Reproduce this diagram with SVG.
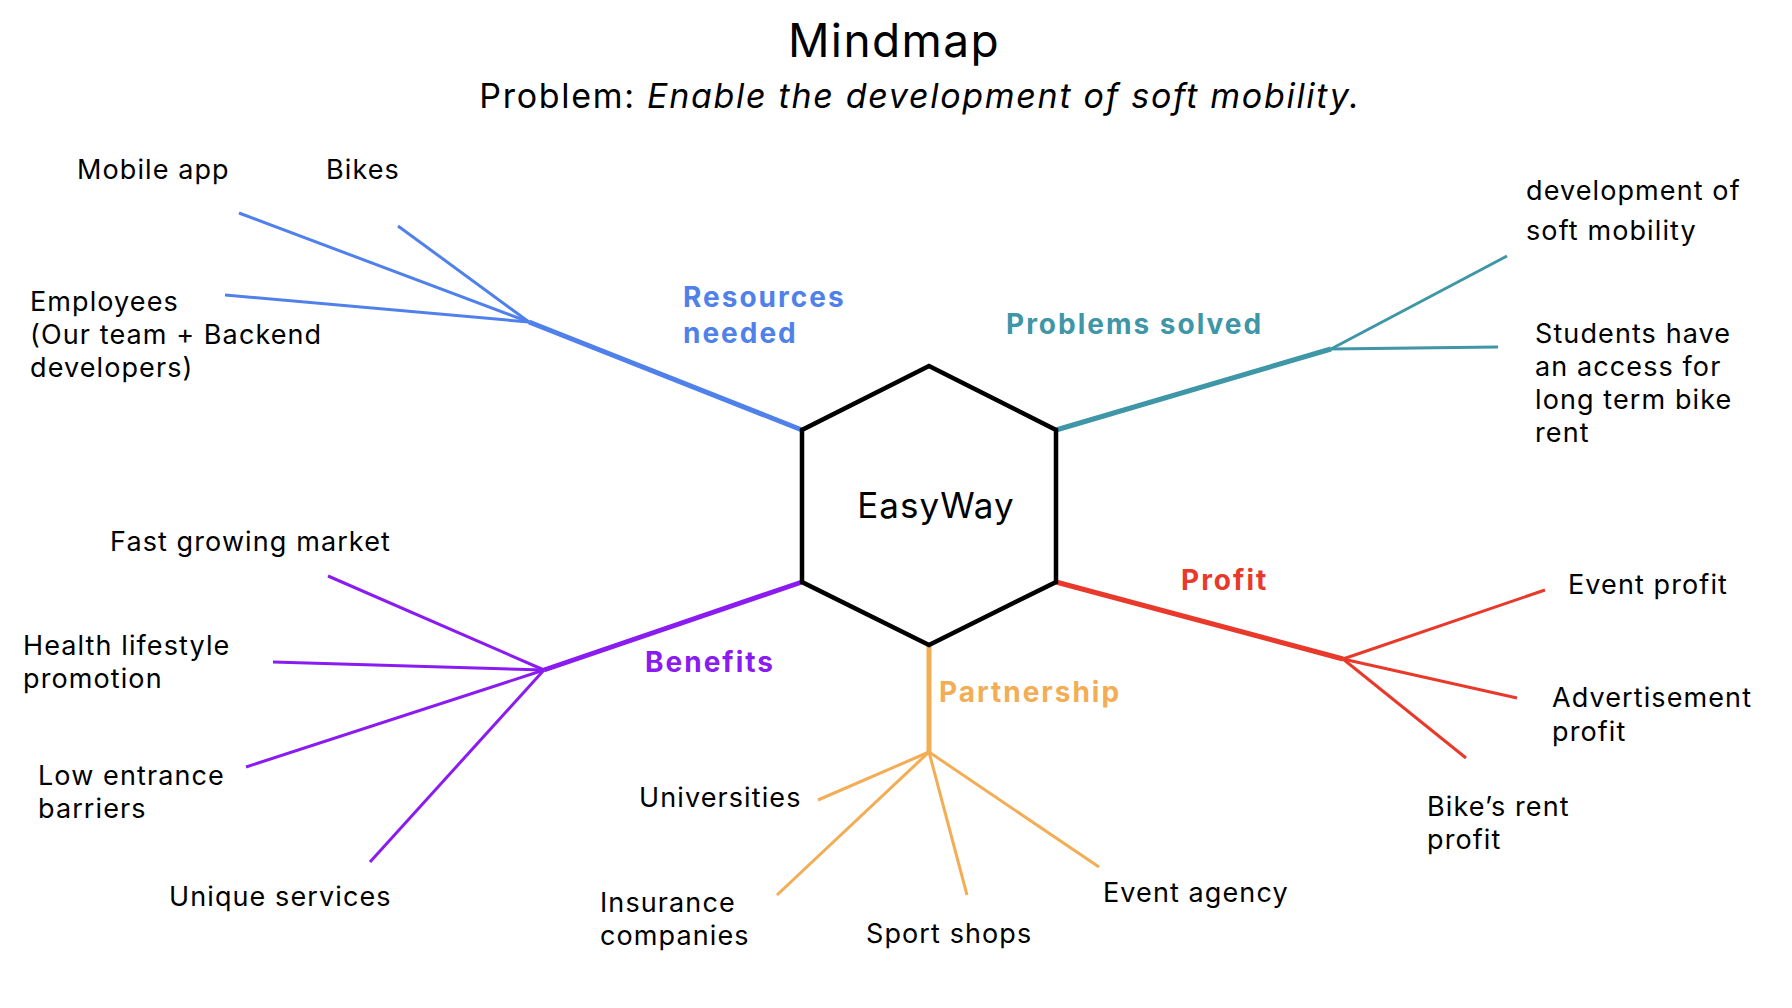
<svg xmlns="http://www.w3.org/2000/svg" width="1792" height="1008" viewBox="0 0 1792 1008">
<style>
text{font-family:Inter,"Open Sans","Liberation Sans",sans-serif;fill:#000}
.t{font-size:27px;letter-spacing:1.1px}
.b{font-size:28px;font-weight:700;letter-spacing:2px}
.m{stroke-width:5;fill:none;stroke-linecap:butt}
.s{stroke-width:3;fill:none}
.blue{stroke:#5081EA}.teal{stroke:#3E96A6}.purple{stroke:#8A1CF2}.orange{stroke:#F2AD55}.red{stroke:#E8392B}
</style>
<rect width="1792" height="1008" fill="#fff"/>
<g id="title">
<text x="894" y="57" font-size="46" letter-spacing="1.4" text-anchor="middle">Mindmap</text>
<text x="920" y="108" font-size="34" letter-spacing="1.7" text-anchor="middle">Problem: <tspan font-style="italic">Enable the development of soft mobility.</tspan></text>
</g>
<g id="connectors">
<line class="m blue" x1="802" y1="430" x2="529" y2="322"/>
<line class="s blue" x1="529" y1="322" x2="239" y2="213"/>
<line class="s blue" x1="529" y1="322" x2="398" y2="226"/>
<line class="s blue" x1="529" y1="322" x2="225" y2="295"/>
<line class="m teal" x1="1056" y1="430" x2="1331" y2="349"/>
<line class="s teal" x1="1331" y1="349" x2="1507" y2="256"/>
<line class="s teal" x1="1331" y1="349" x2="1498" y2="347"/>
<line class="m purple" x1="802" y1="582" x2="544" y2="670"/>
<line class="s purple" x1="544" y1="670" x2="328" y2="576"/>
<line class="s purple" x1="544" y1="670" x2="273" y2="662"/>
<line class="s purple" x1="544" y1="670" x2="246" y2="767"/>
<line class="s purple" x1="544" y1="670" x2="370" y2="862"/>
<line class="m orange" x1="929" y1="645" x2="929" y2="752"/>
<line class="s orange" x1="929" y1="752" x2="818" y2="800"/>
<line class="s orange" x1="929" y1="752" x2="777" y2="895"/>
<line class="s orange" x1="929" y1="752" x2="967" y2="895"/>
<line class="s orange" x1="929" y1="752" x2="1099" y2="867"/>
<line class="m red" x1="1056" y1="582" x2="1343" y2="659"/>
<line class="s red" x1="1343" y1="659" x2="1545" y2="590"/>
<line class="s red" x1="1343" y1="659" x2="1517" y2="698"/>
<line class="s red" x1="1343" y1="659" x2="1466" y2="758"/>
</g>
<g id="center">
<polygon points="929,366 1056,430 1056,582 929,645 802,582 802,430" fill="#fff" stroke="#000" stroke-width="4.5" stroke-linejoin="miter"/>
<text x="936" y="518" font-size="35" letter-spacing="1" text-anchor="middle">EasyWay</text>
</g>
<g id="resources">
<text class="b" x="683" y="307" style="fill:#5081EA">Resources</text>
<text class="b" x="683" y="343" style="fill:#5081EA">needed</text>
</g>
<g id="mobile-app"><text class="t" x="77" y="179">Mobile app</text></g>
<g id="bikes"><text class="t" x="326" y="179">Bikes</text></g>
<g id="employees"><text class="t" x="30" y="311">Employees</text><text class="t" x="30" y="344">(Our team + Backend</text><text class="t" x="30" y="377">developers)</text></g>
<g id="problems">
<text class="b" x="1006" y="334" style="fill:#3E96A6">Problems solved</text>
</g>
<g id="soft-mobility"><text class="t" x="1526" y="200">development of</text><text class="t" x="1526" y="240">soft mobility</text></g>
<g id="students"><text class="t" x="1535" y="343">Students have</text><text class="t" x="1535" y="376">an access for</text><text class="t" x="1535" y="409">long term bike</text><text class="t" x="1535" y="442">rent</text></g>
<g id="benefits">
<text class="b" x="645" y="672" style="fill:#8A1CF2">Benefits</text>
</g>
<g id="fast-growing"><text class="t" x="110" y="551">Fast growing market</text></g>
<g id="health"><text class="t" x="23" y="655">Health lifestyle</text><text class="t" x="23" y="688">promotion</text></g>
<g id="low-entrance"><text class="t" x="38" y="785">Low entrance</text><text class="t" x="38" y="818">barriers</text></g>
<g id="unique"><text class="t" x="169" y="906">Unique services</text></g>
<g id="partnership">
<text class="b" x="939" y="702" style="fill:#F2AD55">Partnership</text>
</g>
<g id="universities"><text class="t" x="639" y="807">Universities</text></g>
<g id="insurance"><text class="t" x="600" y="912">Insurance</text><text class="t" x="600" y="945">companies</text></g>
<g id="sport-shops"><text class="t" x="866" y="943">Sport shops</text></g>
<g id="event-agency"><text class="t" x="1103" y="902">Event agency</text></g>
<g id="profit">
<text class="b" x="1181" y="590" style="fill:#E8392B">Profit</text>
</g>
<g id="event-profit"><text class="t" x="1568" y="594">Event profit</text></g>
<g id="advertisement"><text class="t" x="1552" y="707">Advertisement</text><text class="t" x="1552" y="741">profit</text></g>
<g id="bike-rent"><text class="t" x="1427" y="816">Bike’s rent</text><text class="t" x="1427" y="849">profit</text></g>
</svg>
